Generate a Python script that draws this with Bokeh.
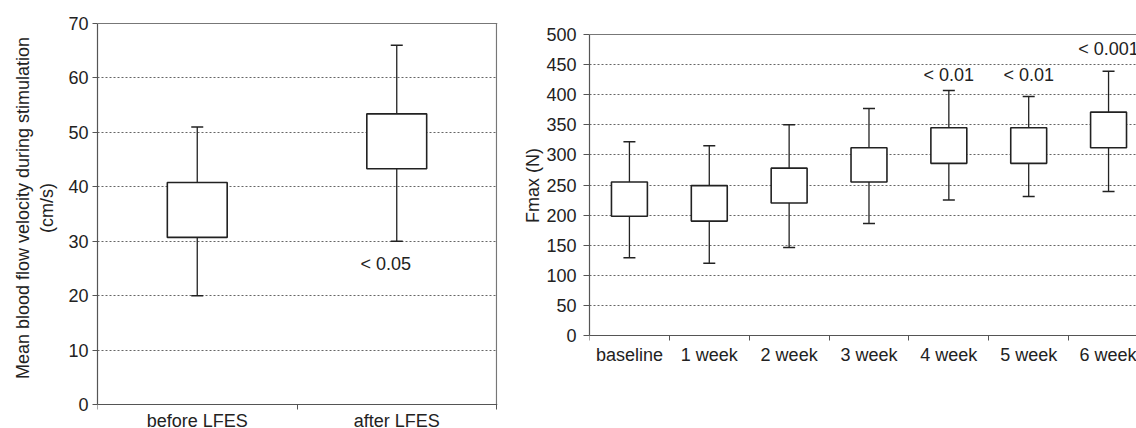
from bokeh.plotting import figure
from bokeh.layouts import row
from bokeh.models import FixedTicker, Range1d, Span
from bokeh.core.properties import value
from bokeh.embed import file_html
from bokeh.resources import INLINE

# ---- left chart data ----
left_categories = ["before LFES", "after LFES"]
left_min = [20, 30]
left_q1 = [30.7, 43.3]
left_q3 = [40.8, 53.4]
left_max = [51, 66]
left_ticks = [0, 10, 20, 30, 40, 50, 60, 70]
left_ylabel = ["Mean blood flow velocity during stimulation", "(cm/s)"]
left_pvalue_idx = [2]
left_pvalue_text = ["< 0.05"]
left_pvalue_y = [25.8]

# ---- right chart data ----
right_categories = ["baseline", "1 week", "2 week", "3 week", "4 week", "5 week", "6 week"]
right_min = [129, 120, 146, 186, 225, 231, 239]
right_q1 = [198, 190, 220, 255, 286, 286, 312]
right_q3 = [255, 249, 278, 312, 345, 345, 371]
right_max = [322, 315, 350, 377, 407, 397, 439]
right_ticks = [0, 50, 100, 150, 200, 250, 300, 350, 400, 450, 500]
right_ylabel = ["Fmax (N)"]
right_pvalue_idx = [5, 6, 7]
right_pvalue_text = ["< 0.01", "< 0.01", "< 0.001"]
right_pvalue_y = [432, 432, 476]

FONT = "Liberation Sans"
FS = "18px"
BOX_COLOR = "#222222"
AXIS_COLOR = "#555555"
GRID_COLOR = "#666666"
FRAME_COLOR = "#777777"
TEXT_COLOR = "#222222"
TOP = 22  # frame top (one pixel above the top value line)
NBSP = "\u00a0"


def style(p, cats, yticks, lines, pad, tick_out, tick_standoff, label_standoff, x_standoff):
    n = len(cats)
    xs = list(range(1, n + 1))
    p.xaxis.ticker = FixedTicker(ticks=xs, minor_ticks=[i + 0.5 for i in range(n + 1)])
    p.xaxis.major_label_overrides = {i: c for i, c in zip(xs, cats)}
    p.xaxis.major_tick_out = 0
    p.xaxis.major_tick_in = 0
    p.xaxis.minor_tick_out = 5
    p.xaxis.minor_tick_in = 0
    p.xaxis.minor_tick_line_color = AXIS_COLOR
    p.xaxis.major_label_standoff = x_standoff
    p.xaxis.fixed_location = 0
    p.yaxis.ticker = FixedTicker(ticks=yticks)
    p.yaxis.bounds = (yticks[0], yticks[-1])
    p.yaxis.major_tick_out = tick_out
    p.yaxis.major_tick_in = 0
    p.yaxis.minor_tick_line_color = None
    p.yaxis.major_label_standoff = tick_standoff
    # leading no-break spaces move the centred label up to the middle of the value span
    p.yaxis.axis_label = "\n".join(NBSP * pad + line for line in lines)
    p.yaxis.axis_label_standoff = label_standoff
    p.yaxis.axis_label_text_font_style = "normal"
    for ax in (p.xaxis, p.yaxis):
        ax.axis_line_color = AXIS_COLOR
        ax.axis_line_width = 1.2
        ax.major_tick_line_color = AXIS_COLOR
        ax.major_label_text_font = FONT
        ax.major_label_text_font_size = FS
        ax.major_label_text_color = TEXT_COLOR
        ax.axis_label_text_font = FONT
        ax.axis_label_text_font_size = FS
        ax.axis_label_text_color = TEXT_COLOR
    p.xgrid.grid_line_color = None
    p.ygrid.grid_line_color = GRID_COLOR
    p.ygrid.grid_line_dash = "2 2"
    p.ygrid.grid_line_width = 1
    p.background_fill_color = "white"
    p.border_fill_color = "white"
    p.outline_line_color = None
    p.add_layout(Span(location=yticks[-1], dimension="width",
                      line_color=FRAME_COLOR, line_width=1.2))
    return xs


def boxes(p, xs, mn, q1, q3, mx, width):
    p.segment(x0=xs, y0=q3, x1=xs, y1=mx, line_color=BOX_COLOR, line_width=1.3)
    p.segment(x0=xs, y0=mn, x1=xs, y1=q1, line_color=BOX_COLOR, line_width=1.3)
    p.scatter(x=xs, y=mx, marker="dash", size=12, line_color=BOX_COLOR, line_width=1.5)
    p.scatter(x=xs, y=mn, marker="dash", size=12, line_color=BOX_COLOR, line_width=1.5)
    p.vbar(x=xs, width=width, bottom=q1, top=q3, fill_color="white",
           line_color=BOX_COLOR, line_width=1.6)


# ---- left figure: 0 -> y=404, 70 -> y=23 ; category width 199.5 px ----
pxl = 381 / 70
cwl = 199.5
pl = figure(width=520, height=428, output_backend="svg", toolbar_location=None,
            x_range=Range1d(0.5, 2.5 + 1 / cwl),
            y_range=Range1d(-(428 - 404) / pxl, 70 + (23 - TOP) / pxl),
            min_border_left=97, min_border_right=23, min_border_top=TOP,
            min_border_bottom=0)
xl = style(pl, left_categories, left_ticks, left_ylabel, 7, 5, 4, 8, 1)
pl.segment(x0=[2.5], y0=[0], x1=[2.5], y1=[70], line_color=FRAME_COLOR, line_width=1.2)
boxes(pl, xl, left_min, left_q1, left_q3, left_max, 0.30)
pl.text(x=left_pvalue_idx, y=left_pvalue_y, text=left_pvalue_text, x_offset=-11,
        text_font=value(FONT), text_font_size=FS, text_align="center",
        text_baseline="middle", text_color=TEXT_COLOR)

# ---- right figure: 0 -> y=335, 500 -> y=34 ; category width 80 px ----
pxr = 301 / 500
cwr = 80
pr = figure(width=616, height=428, output_backend="svg", toolbar_location=None,
            x_range=Range1d(0.5, 0.5 + 548 / cwr),
            y_range=Range1d(-(428 - 335) / pxr, 500 + (34 - TOP) / pxr),
            min_border_left=68, min_border_right=0, min_border_top=TOP,
            min_border_bottom=0)
xr = style(pr, right_categories, right_ticks, right_ylabel, 16, 6, 7, 0, 4)
boxes(pr, xr, right_min, right_q1, right_q3, right_max, 0.45)
pr.text(x=right_pvalue_idx, y=right_pvalue_y, text=right_pvalue_text,
        text_font=value(FONT), text_font_size=FS, text_align="center",
        text_baseline="middle", text_color=TEXT_COLOR)

layout = row(pl, pr)
open("out.html", "w").write(file_html(layout, INLINE))
